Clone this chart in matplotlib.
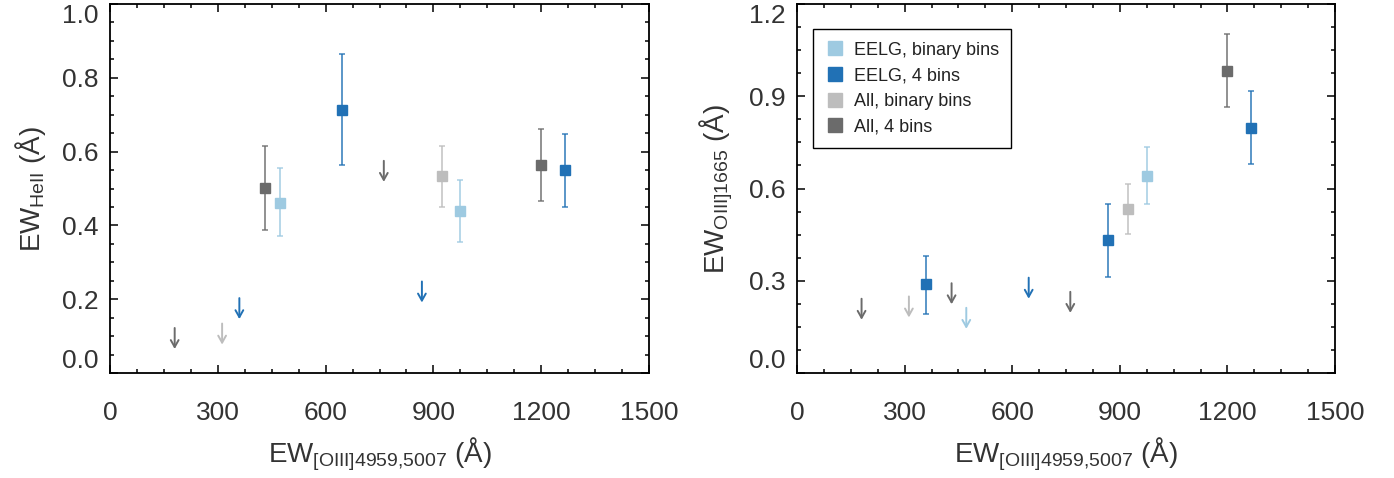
import matplotlib
matplotlib.use("Agg")
import matplotlib.pyplot as plt
from matplotlib.lines import Line2D
from matplotlib.ticker import MultipleLocator
import numpy as np

plt.rcParams['font.family'] = ['Liberation Sans', 'DejaVu Sans']
plt.rcParams['mathtext.fontset'] = 'custom'
plt.rcParams['mathtext.rm'] = 'Liberation Sans'

# ---------------- data ----------------
series_names = ["EELG, binary bins", "EELG, 4 bins", "All, binary bins", "All, 4 bins"]
series_colors = ["#9ecae1", "#2171b5", "#bdbdbd", "#6b6b6b"]

# x positions: EW([OIII]4959,5007) of each bin
x_eelg_bin = [472, 975]
x_eelg_4 = [360, 646, 868, 1267]
x_all_bin = [312, 923]
x_all_4 = [180, 431, 762, 1200]

# Left panel: EW(HeII); NaN err = upper limit
heii_eelg_bin = [0.461, 0.440]
heii_eelg_bin_lo = [0.370, 0.356]
heii_eelg_bin_hi = [0.555, 0.524]
heii_eelg_bin_ul = [False, False]

heii_eelg_4 = [0.203, 0.713, 0.248, 0.551]
heii_eelg_4_lo = [np.nan, 0.563, np.nan, 0.451]
heii_eelg_4_hi = [np.nan, 0.864, np.nan, 0.649]
heii_eelg_4_ul = [True, False, True, False]

heii_all_bin = [0.134, 0.534]
heii_all_bin_lo = [np.nan, 0.451]
heii_all_bin_hi = [np.nan, 0.616]
heii_all_bin_ul = [True, False]

heii_all_4 = [0.122, 0.502, 0.575, 0.564]
heii_all_4_lo = [np.nan, 0.387, np.nan, 0.466]
heii_all_4_hi = [np.nan, 0.616, np.nan, 0.660]
heii_all_4_ul = [True, False, True, False]

# Right panel: EW(OIII]1665)
oiii_eelg_bin = [0.212, 0.641]
oiii_eelg_bin_lo = [np.nan, 0.548]
oiii_eelg_bin_hi = [np.nan, 0.736]
oiii_eelg_bin_ul = [True, False]

oiii_eelg_4 = [0.288, 0.310, 0.431, 0.797]
oiii_eelg_4_lo = [0.193, np.nan, 0.311, 0.681]
oiii_eelg_4_hi = [0.379, np.nan, 0.551, 0.916]
oiii_eelg_4_ul = [False, True, False, False]

oiii_all_bin = [0.249, 0.534]
oiii_all_bin_lo = [np.nan, 0.451]
oiii_all_bin_hi = [np.nan, 0.616]
oiii_all_bin_ul = [True, False]

oiii_all_4 = [0.2415, 0.292, 0.264, 0.982]
oiii_all_4_lo = [np.nan, np.nan, np.nan, 0.864]
oiii_all_4_hi = [np.nan, np.nan, np.nan, 1.101]
oiii_all_4_ul = [True, True, True, False]

x_ticks = [0, 300, 600, 900, 1200, 1500]
left_yticks = [0.0, 0.2, 0.4, 0.6, 0.8, 1.0]
right_yticks = [0.0, 0.3, 0.6, 0.9, 1.2]

# ---------------- figure ----------------
W, H = 1394, 478
fig = plt.figure(figsize=(W / 100, H / 100), dpi=100)
axL = fig.add_axes([110 / W, 1 - 373 / H, 539 / W, 369 / H])
axR = fig.add_axes([797 / W, 1 - 373 / H, 538 / W, 369 / H])

TXT = "#333333"


def draw_series(ax, x, y, lo, hi, ul, color, arrow_frac):
    ymin, ymax = ax.get_ylim()
    L = arrow_frac * (ymax - ymin)
    for xi, yi, l, h, u in zip(x, y, lo, hi, ul):
        if u:
            ax.annotate("", xy=(xi, yi - L), xytext=(xi, yi),
                        arrowprops=dict(arrowstyle="->,head_width=0.28,head_length=0.5",
                                        color=color, lw=1.4, shrinkA=0, shrinkB=0),
                        zorder=3)
        else:
            ax.errorbar([xi], [yi], yerr=[[yi - l], [h - yi]], fmt="none",
                        ecolor=color, elinewidth=1.3, capsize=2.5, capthick=1.2,
                        alpha=0.8, zorder=2)
            ax.plot([xi], [yi], marker="s", ms=7, color=color, mec=color,
                    ls="none", zorder=4)


def style_axis(ax, yticks, yminor, ylim):
    ax.set_xlim(0, 1500)
    ax.set_ylim(*ylim)
    ax.set_xticks(x_ticks)
    ax.xaxis.set_minor_locator(MultipleLocator(75))
    ax.set_yticks(yticks)
    ax.yaxis.set_minor_locator(MultipleLocator(yminor))
    ax.set_yticklabels([f"{v:.1f}" for v in yticks])
    ax.tick_params(which="both", direction="in", top=True, right=True,
                   colors="black", labelcolor=TXT, width=1.1)
    ax.tick_params(which="major", length=5.5, labelsize=19)
    ax.tick_params(which="minor", length=2.8)
    ax.tick_params(axis="x", pad=20)
    ax.tick_params(axis="y", pad=8)
    for s in ax.spines.values():
        s.set_linewidth(1.3)
    labs = ax.get_yticklabels()
    labs[0].set_va("bottom")
    labs[-1].set_va("top")
    ax.set_xlabel(r"$\mathregular{EW_{[OIII]4959{,}5007}}$ (Å)", fontsize=20,
                  color=TXT, labelpad=8)


style_axis(axL, left_yticks, 0.05, (0, 1.0))
style_axis(axR, right_yticks, 0.075, (0, 1.2))
axL.set_ylabel(r"$\mathregular{EW_{HeII}}$ (Å)", fontsize=20, color=TXT, labelpad=10)
axR.set_ylabel(r"$\mathregular{EW_{OIII]1665}}$ (Å)", fontsize=20, color=TXT, labelpad=10)

fr = 0.057
draw_series(axL, x_all_4, heii_all_4, heii_all_4_lo, heii_all_4_hi, heii_all_4_ul, series_colors[3], fr)
draw_series(axL, x_all_bin, heii_all_bin, heii_all_bin_lo, heii_all_bin_hi, heii_all_bin_ul, series_colors[2], fr)
draw_series(axL, x_eelg_4, heii_eelg_4, heii_eelg_4_lo, heii_eelg_4_hi, heii_eelg_4_ul, series_colors[1], fr)
draw_series(axL, x_eelg_bin, heii_eelg_bin, heii_eelg_bin_lo, heii_eelg_bin_hi, heii_eelg_bin_ul, series_colors[0], fr)

draw_series(axR, x_all_4, oiii_all_4, oiii_all_4_lo, oiii_all_4_hi, oiii_all_4_ul, series_colors[3], fr)
draw_series(axR, x_all_bin, oiii_all_bin, oiii_all_bin_lo, oiii_all_bin_hi, oiii_all_bin_ul, series_colors[2], fr)
draw_series(axR, x_eelg_4, oiii_eelg_4, oiii_eelg_4_lo, oiii_eelg_4_hi, oiii_eelg_4_ul, series_colors[1], fr)
draw_series(axR, x_eelg_bin, oiii_eelg_bin, oiii_eelg_bin_lo, oiii_eelg_bin_hi, oiii_eelg_bin_ul, series_colors[0], fr)

handles = [Line2D([], [], marker="s", ls="none", ms=10, color=c, mec=c) for c in series_colors]
leg = axR.legend(handles, series_names, loc="upper left",
                 bbox_to_anchor=(16 / 538, 1 - 25 / 369), borderaxespad=0,
                 fontsize=13, frameon=True, fancybox=False, framealpha=1,
                 handlelength=1.0, handletextpad=0.55, labelspacing=0.48,
                 borderpad=0.7)
leg.get_frame().set_edgecolor("black")
leg.get_frame().set_linewidth(1.0)
for t in leg.get_texts():
    t.set_color("#222222")

fig.savefig("out.png", dpi=100)
